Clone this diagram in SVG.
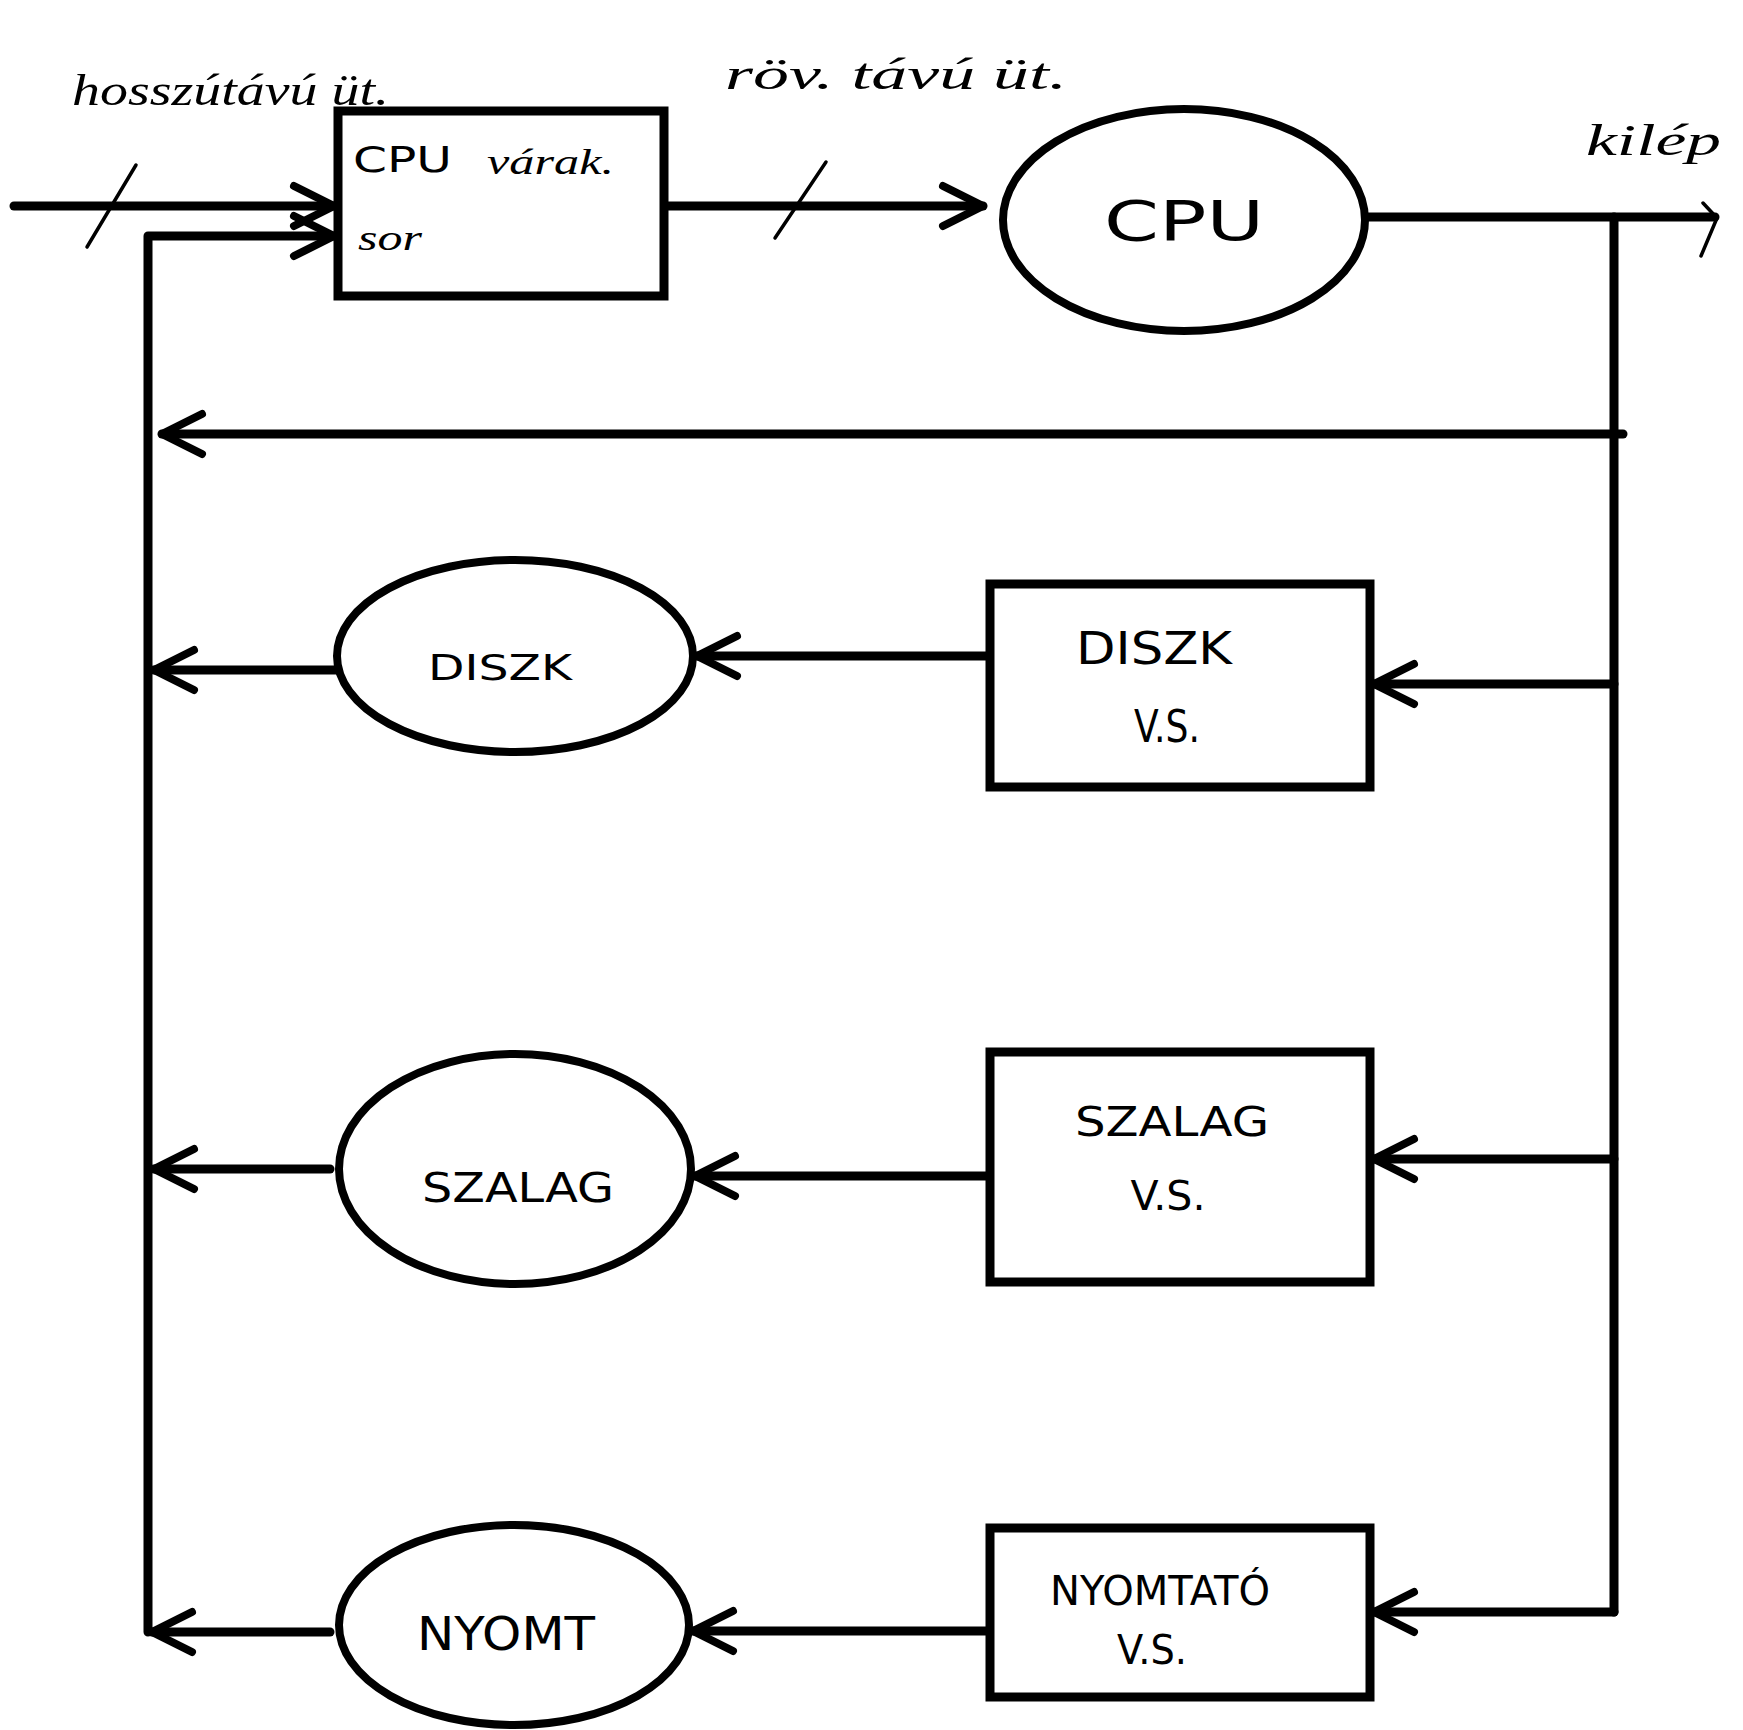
<svg xmlns="http://www.w3.org/2000/svg" width="1743" height="1730" viewBox="0 0 1743 1730">
<style>
.line{fill:none;stroke:#000;stroke-width:9;stroke-linecap:round;stroke-linejoin:round}
.thin{fill:none;stroke:#000;stroke-width:3.5;stroke-linecap:round;stroke-linejoin:round}
.box{fill:#fff;stroke:#000;stroke-width:9}
.ell{fill:#fff;stroke:#000;stroke-width:8}
.hand{font-family:"Liberation Serif",serif;font-style:italic;fill:#000}
.caps{font-family:"DejaVu Sans","Liberation Sans",sans-serif;fill:#000}
</style>
<defs>
<marker id="chev" markerUnits="userSpaceOnUse" viewBox="-50 -30 60 60" refX="0" refY="0" markerWidth="60" markerHeight="60" orient="auto" overflow="visible">
<path d="M-40,-20 L0,0 L-40,20" fill="none" stroke="#000" stroke-width="8" stroke-linecap="round" stroke-linejoin="round"/>
</marker>
</defs>
<rect width="1743" height="1730" fill="#fff"/>
<g id="connectors">
<path class="line" d="M14,206 L334,206" marker-end="url(#chev)"/>
<path class="thin" d="M136,165 L87,247"/>
<path class="line" d="M148,1632 L148,236 L334,236" marker-end="url(#chev)"/>
<path class="line" d="M664,206 L983,206" marker-end="url(#chev)"/>
<path class="thin" d="M826,162 L775,238"/>
<path class="line" d="M1367,217 L1715,217"/>
<path class="thin" d="M1703,203 L1717,218 L1701,256"/>
<path class="line" d="M1614,217 L1614,1612"/>
<path class="line" d="M1623,434 L162,434" marker-end="url(#chev)"/>
<path class="line" d="M1614,684 L1374,684" marker-end="url(#chev)"/>
<path class="line" d="M990,656 L697,656" marker-end="url(#chev)"/>
<path class="line" d="M337,670 L154,670" marker-end="url(#chev)"/>
<path class="line" d="M1614,1159 L1374,1159" marker-end="url(#chev)"/>
<path class="line" d="M990,1176 L695,1176" marker-end="url(#chev)"/>
<path class="line" d="M330,1169 L154,1169" marker-end="url(#chev)"/>
<path class="line" d="M1614,1612 L1374,1612" marker-end="url(#chev)"/>
<path class="line" d="M990,1631 L693,1631" marker-end="url(#chev)"/>
<path class="line" d="M330,1632 L152,1632" marker-end="url(#chev)"/>
</g>
<g id="labels">
<text class="hand" x="72" y="105" font-size="44" textLength="317" lengthAdjust="spacingAndGlyphs">hosszútávú üt.</text>
<text class="hand" x="725" y="89" font-size="44" textLength="342" lengthAdjust="spacingAndGlyphs">röv. távú üt.</text>
<text class="hand" x="1586" y="155" font-size="44" textLength="135" lengthAdjust="spacingAndGlyphs">kilép</text>
</g>
<g id="cpu-queue">
<rect class="box" x="338" y="111" width="326" height="185"/>
<text class="caps" x="353" y="172" font-size="36" textLength="99" lengthAdjust="spacingAndGlyphs">CPU</text>
<text class="hand" x="487" y="174" font-size="36" textLength="127" lengthAdjust="spacingAndGlyphs">várak.</text>
<text class="hand" x="358" y="250" font-size="36" textLength="64" lengthAdjust="spacingAndGlyphs">sor</text>
</g>
<g id="cpu">
<ellipse class="ell" cx="1184" cy="220" rx="181" ry="111"/>
<text class="caps" x="1184" y="240" font-size="56" text-anchor="middle" textLength="160" lengthAdjust="spacingAndGlyphs">CPU</text>
</g>
<g id="diszk">
<ellipse class="ell" cx="515" cy="656" rx="178" ry="96"/>
<text class="caps" x="500" y="680" font-size="36" text-anchor="middle" textLength="144" lengthAdjust="spacingAndGlyphs">DISZK</text>
</g>
<g id="diszk-vs">
<rect class="box" x="990" y="584" width="380" height="203"/>
<text class="caps" x="1154" y="664" font-size="44" text-anchor="middle" textLength="156" lengthAdjust="spacingAndGlyphs">DISZK</text>
<text class="caps" x="1167" y="742" font-size="44" text-anchor="middle" textLength="66" lengthAdjust="spacingAndGlyphs">V.S.</text>
</g>
<g id="szalag">
<ellipse class="ell" cx="515" cy="1169" rx="176" ry="115"/>
<text class="caps" x="518" y="1202" font-size="40" text-anchor="middle" textLength="192" lengthAdjust="spacingAndGlyphs">SZALAG</text>
</g>
<g id="szalag-vs">
<rect class="box" x="990" y="1052" width="380" height="230"/>
<text class="caps" x="1172" y="1136" font-size="40" text-anchor="middle" textLength="194" lengthAdjust="spacingAndGlyphs">SZALAG</text>
<text class="caps" x="1168" y="1210" font-size="40" text-anchor="middle" textLength="75" lengthAdjust="spacingAndGlyphs">V.S.</text>
</g>
<g id="nyomt">
<ellipse class="ell" cx="514" cy="1625" rx="175" ry="100"/>
<text class="caps" x="506" y="1650" font-size="46" text-anchor="middle" textLength="178" lengthAdjust="spacingAndGlyphs">NYOMT</text>
</g>
<g id="nyomtato-vs">
<rect class="box" x="990" y="1528" width="380" height="169"/>
<text class="caps" x="1160" y="1605" font-size="40" text-anchor="middle" textLength="220" lengthAdjust="spacingAndGlyphs">NYOMTATÓ</text>
<text class="caps" x="1152" y="1664" font-size="40" text-anchor="middle" textLength="70" lengthAdjust="spacingAndGlyphs">V.S.</text>
</g>
</svg>
